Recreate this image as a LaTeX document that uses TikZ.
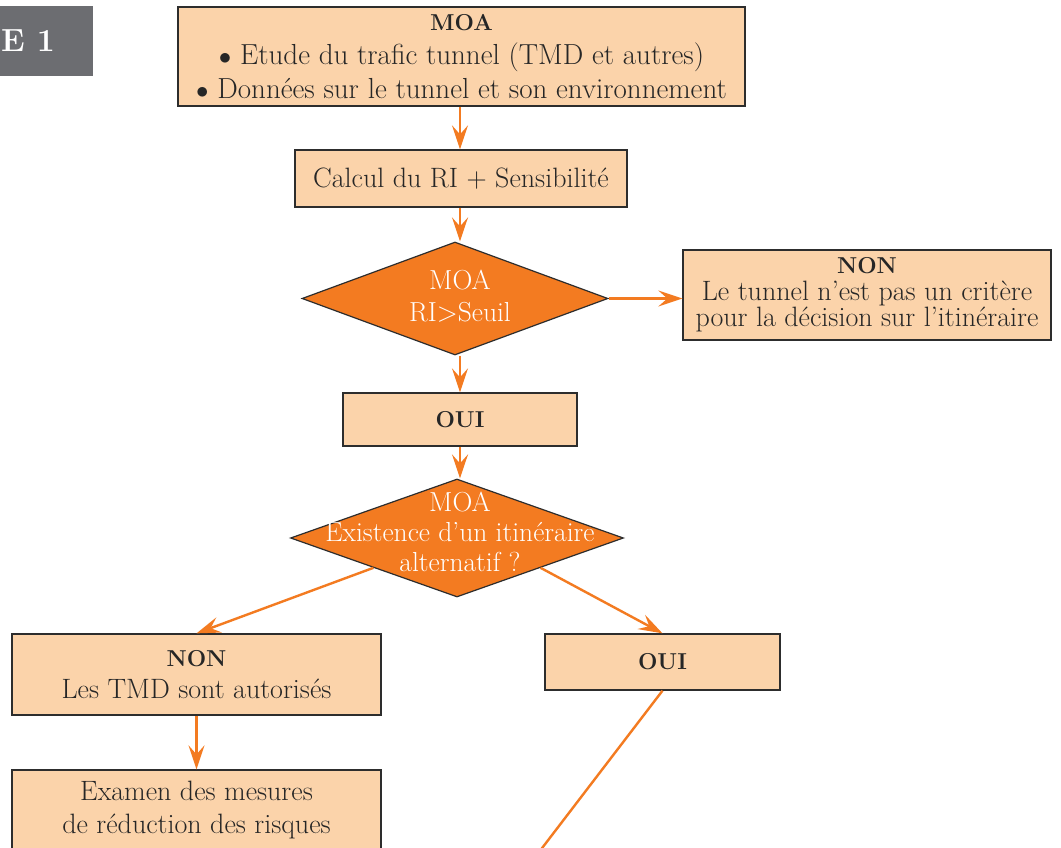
\documentclass[tikz,border=0pt]{standalone}
\usetikzlibrary{shapes.geometric,arrows.meta}
\definecolor{peach}{RGB}{251,211,170}
\definecolor{orng}{RGB}{243,123,33}
\definecolor{greybox}{RGB}{108,109,113}
\definecolor{edge}{RGB}{45,45,45}
\newcommand{\hd}[1]{{\bfseries\fontsize{23}{23}\selectfont #1}}
\begin{document}
\begin{tikzpicture}[x=1pt,y=-1pt,
  box/.style={draw=edge, line width=1.3pt, fill=peach, inner sep=0pt, align=center,
    font=\fontsize{28}{32.5}\selectfont, text=black!85},
  dia/.style={diamond, draw=edge, line width=1.2pt, fill=orng, inner sep=0pt},
  diatext/.style={align=center, text=white, font=\fontsize{27.5}{30}\selectfont},
  arr/.style={draw=orng, line width=2.4pt, -{Stealth[length=24pt,width=16pt,inset=9pt]}},
  ln/.style={draw=orng, line width=2.4pt}]
\clip (0,0) rectangle (1061,848);
\fill[white] (0,0) rectangle (1061,848);
% header tab
\fill[greybox] (0,6) rectangle (93,76);
\node[anchor=base west, text=white, font=\bfseries\fontsize{32}{32}\selectfont, inner sep=0pt] (tab) at (1,52) {E 1};
% boxes
\node[box, minimum width=567, minimum height=99, font=\fontsize{29}{34}\selectfont] (moa) at (461.5,56.5)
  {\hd{MOA}\\$\bullet$ Etude du trafic tunnel (TMD et autres)\\$\bullet$ Données sur le tunnel et son environnement};
\node[box, minimum width=332, minimum height=57] (calc) at (461,178.5) {Calcul du RI + Sensibilité};
\node[dia, minimum width=306, minimum height=113] (d1) at (455,298.5) {};
\node[diatext, font=\fontsize{27.5}{32}\selectfont] (d1t) at (460,296) {MOA\\RI>Seuil};
\node[box, minimum width=368, minimum height=90, font=\fontsize{28}{26.5}\selectfont] (non1) at (867,295)
  {\hd{NON}\\Le tunnel n'est pas un critère\\pour la décision sur l'itinéraire};
\node[box, minimum width=234, minimum height=53] (oui1) at (460,419.5) {\hd{OUI}};
\node[dia, minimum width=333, minimum height=118] (d2) at (457,538) {};
\node[diatext] (d2t) at (460,532) {MOA\\Existence d'un itinéraire\\alternatif ?};
\node[box, minimum width=369, minimum height=81] (non2) at (196.5,674.5)
  {\hd{NON}\\Les TMD sont autorisés};
\node[box, minimum width=235, minimum height=56] (oui2) at (662.5,662) {\hd{OUI}};
\node[box, minimum width=369, minimum height=80] (exam) at (196.5,810)
  {Examen des mesures\\de réduction des risques};
\coordinate (cut) at (536,856);
% connectors
\draw[arr] (moa.south -| 460,0) -- (calc.north -| 460,0);
\draw[arr] (calc.south -| 460,0) -- (d1.north -| 460,0);
\draw[arr] (d1.east) -- (non1.west |- d1.east);
\draw[arr] (d1.south -| 460,0) -- (oui1.north -| 460,0);
\draw[arr] (oui1.south -| 460,0) -- (d2.north -| 460,0);
\draw[arr] (d2.south west) -- (non2.north);
\draw[arr] (d2.south east) -- (oui2.north);
\draw[arr] (non2.south) -- (exam.north);
\draw[ln] (oui2.south) -- (cut);
\end{tikzpicture}
\end{document}
